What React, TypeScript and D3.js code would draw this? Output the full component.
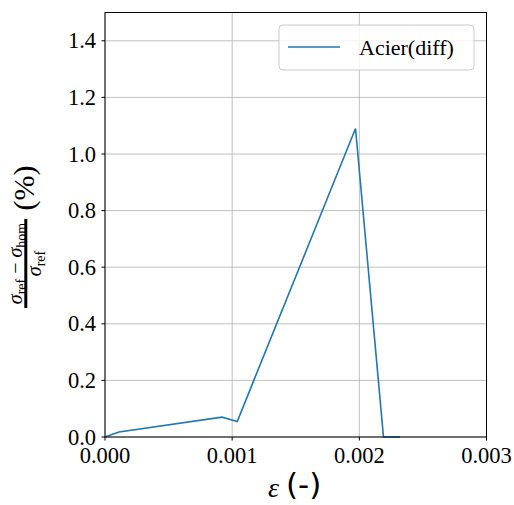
import React from "react";
import * as d3 from "d3";

const strain = [0, 0.00011, 0.00092, 0.00104, 0.00197, 0.00219, 0.00232];
const diffPct = [0, 0.018, 0.07, 0.055, 1.09, 0.0, 0.0];
const xTicks = [0, 0.001, 0.002, 0.003];
const yTicks = [0, 0.2, 0.4, 0.6, 0.8, 1.0, 1.2, 1.4];
const seriesName = "Acier(diff)";

const W = 514;
const H = 505;
const M = { left: 105, right: 486.5, top: 12.5, bottom: 437 };
const SERIF = "'Liberation Serif', 'DejaVu Serif', serif";
const SANS = "'DejaVu Sans', sans-serif";
const BLUE = "#1f77b4";

export default function App() {
  const x = d3.scaleLinear().domain([0, 0.003]).range([M.left, M.right]);
  const y = d3.scaleLinear().domain([0, 1.5]).range([M.bottom, M.top]);
  const pts: [number, number][] = strain.map((s, i) => [s, diffPct[i]]);
  const line = d3
    .line<[number, number]>()
    .x((d) => x(d[0]))
    .y((d) => y(d[1]));

  return (
    <svg
      width={W}
      height={H}
      style={{ position: "absolute", left: 0, top: 0, background: "#fff" }}
    >
      <rect x={0} y={0} width={W} height={H} fill="#fff" />
      {/* grid */}
      {xTicks.map((t) => (
        <line
          key={"gx" + t}
          x1={x(t)}
          x2={x(t)}
          y1={M.top}
          y2={M.bottom}
          stroke="#b0b0b0"
          strokeWidth={0.8}
        />
      ))}
      {yTicks.map((t) => (
        <line
          key={"gy" + t}
          x1={M.left}
          x2={M.right}
          y1={y(t)}
          y2={y(t)}
          stroke="#b0b0b0"
          strokeWidth={0.8}
        />
      ))}
      {/* data */}
      <path d={line(pts) || ""} fill="none" stroke={BLUE} strokeWidth={1.6} />
      {/* spines */}
      <rect
        x={M.left}
        y={M.top}
        width={M.right - M.left}
        height={M.bottom - M.top}
        fill="none"
        stroke="#000"
        strokeWidth={1}
      />
      {/* x ticks */}
      {xTicks.map((t) => (
        <g key={"xt" + t}>
          <line x1={x(t)} x2={x(t)} y1={M.bottom} y2={M.bottom + 3.5} stroke="#000" strokeWidth={1} />
          <text
            x={x(t)}
            y={M.bottom + 26}
            textAnchor="middle"
            fontFamily={SERIF}
            fontSize={22.5}
            fill="#000"
          >
            {d3.format(".3f")(t)}
          </text>
        </g>
      ))}
      {/* y ticks */}
      {yTicks.map((t) => (
        <g key={"yt" + t}>
          <line x1={M.left - 3.5} x2={M.left} y1={y(t)} y2={y(t)} stroke="#000" strokeWidth={1} />
          <text
            x={M.left - 9}
            y={y(t) + 7.5}
            textAnchor="end"
            fontFamily={SERIF}
            fontSize={22.5}
            fill="#000"
          >
            {d3.format(".1f")(t)}
          </text>
        </g>
      ))}
      {/* x label */}
      <text x={268} y={497} fontFamily={SERIF} fontStyle="italic" fontSize={28} fill="#000">
        ε
      </text>
      <text x={286} y={495} fontFamily={SANS} fontSize={31} fill="#000">
        (-)
      </text>
      {/* y label */}
      <g transform="rotate(-90)">
        <text x={-263.5} y={22} textAnchor="middle" fontFamily={SERIF} fontSize={20} fill="#000">
          <tspan fontStyle="italic">σ</tspan>
          <tspan fontSize={14} dy={4}>ref</tspan>
          <tspan dy={-4}> − </tspan>
          <tspan fontStyle="italic">σ</tspan>
          <tspan fontSize={14} dy={4}>hom</tspan>
        </text>
        <line x1={-308} x2={-219} y1={25.8} y2={25.8} stroke="#000" strokeWidth={3} />
        <text x={-263.5} y={41} textAnchor="middle" fontFamily={SERIF} fontSize={20} fill="#000">
          <tspan fontStyle="italic">σ</tspan>
          <tspan fontSize={14} dy={4}>ref</tspan>
        </text>
        <text x={-188} y={34} textAnchor="middle" fontFamily={SERIF} fontSize={30} fill="#000">
          (%)
        </text>
      </g>
      {/* legend */}
      <rect
        x={279}
        y={25}
        width={195}
        height={45}
        rx={4}
        ry={4}
        fill="#fff"
        fillOpacity={0.8}
        stroke="#cccccc"
        strokeWidth={1}
      />
      <line x1={288} x2={340} y1={47} y2={47} stroke={BLUE} strokeWidth={1.6} />
      <text x={359} y={55} fontFamily={SERIF} fontSize={22} fill="#000">
        {seriesName}
      </text>
    </svg>
  );
}
